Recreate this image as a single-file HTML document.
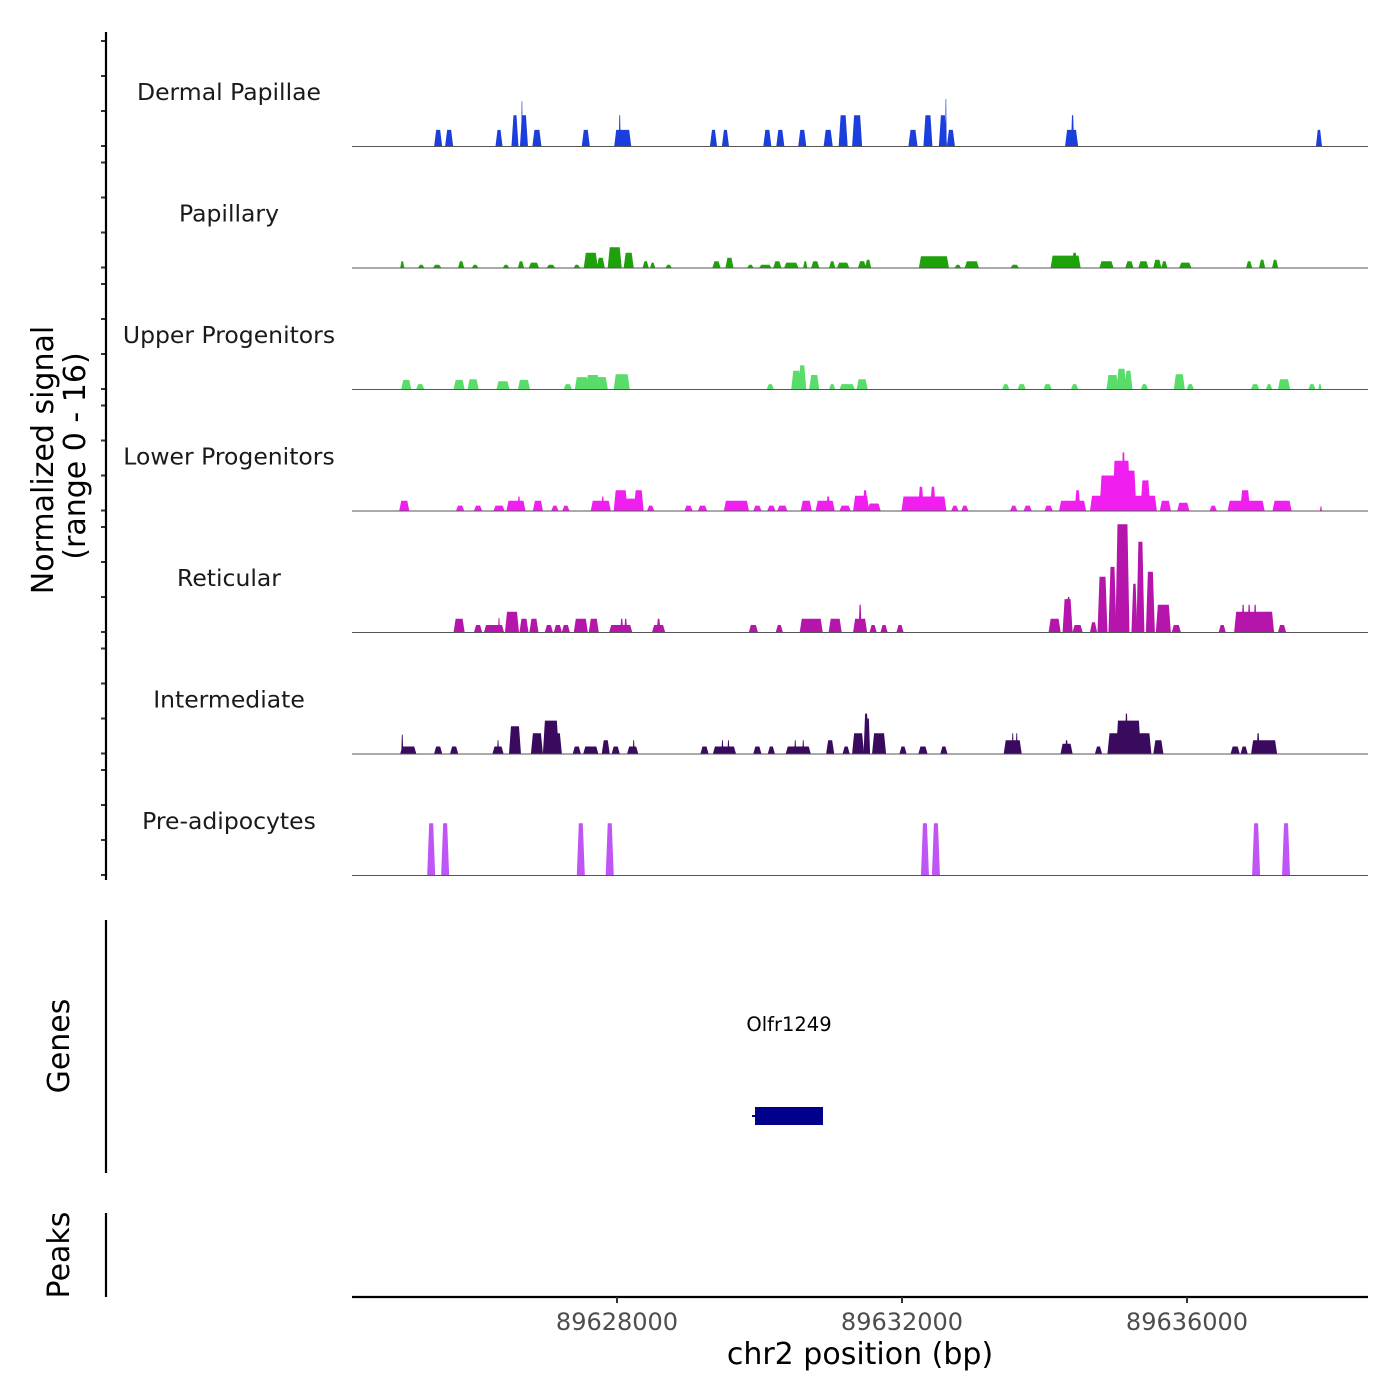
<!DOCTYPE html>
<html><head><meta charset="utf-8">
<style>
html,body{margin:0;padding:0;background:#fff;}
svg{display:block;font-family:"DejaVu Sans","Liberation Sans",sans-serif;}
</style></head>
<body>
<svg id="chart" width="1400" height="1400" viewBox="0 0 1400 1400" xmlns="http://www.w3.org/2000/svg">
<g id="tracks"></g>
<g id="axes"></g>
</svg>
<script>
// ---- data ----
const trackNames = ["Dermal Papillae","Papillary","Upper Progenitors","Lower Progenitors","Reticular","Intermediate","Pre-adipocytes"];
const trackColors = ["#1a3fdc","#1ea10a","#5adc6a","#f01ff0","#b515aa","#3a0a5e","#c055f5"];
const yTickValues = [0,5,10,15];
const xTickValues = [89628000,89632000,89636000];
const xTickLabels = ["89628000","89632000","89636000"];
// peaks: [center bp, width bp, signal]
const dermalPapillae = [[89625490,112,2.3],[89625644,112,2.3],[89626344,98,2.3],[89626568,98,4.4],[89626694,112,4.4],[89626666,21,6.4],[89626876,126,2.3],[89627562,112,2.3],[89628080,238,2.3],[89628038,28,4.4],[89629354,98,2.3],[89629522,98,2.3],[89630110,112,2.3],[89630292,112,2.3],[89630600,112,2.3],[89630964,126,2.3],[89631174,126,4.4],[89631370,140,4.4],[89632154,126,2.3],[89632364,126,4.4],[89632574,112,4.4],[89632616,21,6.7],[89632686,112,2.3],[89634380,182,2.3],[89634394,42,4.4],[89637852,84,2.3]];
const papillary = [[89624986,56,0.9],[89625252,84,0.4],[89625476,112,0.4],[89625812,84,0.9],[89626008,84,0.4],[89626442,84,0.4],[89626652,84,0.9],[89626834,140,0.7],[89627072,112,0.4],[89627436,84,0.4],[89627632,196,2.1],[89627772,112,1.4],[89627968,196,2.9],[89628164,140,2.1],[89628402,84,0.9],[89628500,70,0.7],[89628724,84,0.4],[89629396,112,0.9],[89629578,112,1.4],[89629872,84,0.4],[89630082,168,0.4],[89630250,112,0.9],[89630446,196,0.7],[89630642,56,0.9],[89630782,112,0.9],[89631020,84,0.9],[89631174,168,0.7],[89631440,112,0.9],[89631524,84,1.1],[89632448,420,1.6],[89632784,84,0.4],[89632980,196,0.9],[89633582,112,0.4],[89634296,420,1.7],[89634422,84,2.1],[89634870,196,0.9],[89635192,112,0.9],[89635388,140,0.9],[89635584,112,1.1],[89635682,84,0.9],[89635976,168,0.7],[89636872,84,0.9],[89637054,84,1.1],[89637236,84,1.1]];
const upperProgenitors = [[89625042,140,1.3],[89625238,112,0.7],[89625784,154,1.3],[89625980,154,1.4],[89626400,182,1.1],[89626694,168,1.3],[89627310,112,0.7],[89627506,196,1.7],[89627660,196,2.0],[89627772,196,1.7],[89628066,224,2.1],[89630152,98,0.7],[89630516,140,2.6],[89630600,112,3.4],[89630768,140,2.0],[89631020,84,0.7],[89631230,210,0.7],[89631440,154,1.4],[89633456,98,0.7],[89633680,112,0.7],[89634044,112,0.7],[89634422,98,0.7],[89634954,168,2.0],[89635080,140,2.9],[89635178,112,2.6],[89635402,98,0.7],[89635892,154,2.1],[89636046,98,0.7],[89636956,112,0.7],[89637152,84,0.7],[89637362,168,1.4],[89637754,98,0.7],[89637866,42,0.7]];
const lowerProgenitors = [[89625014,140,1.4],[89625798,112,0.7],[89626050,112,0.7],[89626344,154,0.7],[89626582,266,1.4],[89626624,42,2.0],[89626890,140,1.4],[89627128,98,0.7],[89627282,98,0.7],[89627772,280,1.4],[89627800,42,2.0],[89628052,196,2.9],[89628192,168,1.7],[89628304,140,2.9],[89628472,98,0.7],[89629004,112,0.7],[89629200,126,0.7],[89629676,350,1.4],[89629970,112,0.7],[89630166,112,0.7],[89630320,140,0.7],[89630656,154,1.4],[89630922,266,1.4],[89630964,56,2.0],[89631202,154,0.7],[89631426,224,2.1],[89631482,70,2.9],[89631608,182,1.0],[89632308,630,2.0],[89632266,84,3.4],[89632434,84,3.4],[89632742,98,0.7],[89632882,98,0.7],[89633568,98,0.7],[89633764,112,0.7],[89634058,112,0.7],[89634394,378,1.4],[89634464,84,2.9],[89635108,938,2.1],[89634912,280,5.0],[89635080,252,7.1],[89635108,56,8.3],[89635220,140,5.7],[89635416,140,4.3],[89635696,154,1.4],[89635948,168,1.1],[89636368,98,0.7],[89636830,518,1.4],[89636816,140,2.9],[89637334,266,1.4],[89637880,28,0.6]];
const reticular = [[89625784,154,1.9],[89626050,112,1.0],[89626274,280,1.0],[89626344,28,2.0],[89626526,196,2.9],[89626694,126,1.9],[89626834,126,1.9],[89627044,112,1.0],[89627170,112,1.0],[89627282,112,1.0],[89627492,196,1.9],[89627674,140,1.9],[89628052,322,1.0],[89628066,42,1.9],[89628122,42,1.9],[89628584,182,1.0],[89628584,56,1.9],[89629914,126,1.0],[89630278,98,1.0],[89630726,322,1.9],[89631062,182,1.9],[89631412,196,1.9],[89631412,42,3.9],[89631594,98,1.0],[89631748,98,1.0],[89631972,98,1.0],[89634142,168,1.9],[89634324,140,4.7],[89634338,56,5.0],[89634464,140,1.0],[89634688,98,1.4],[89634814,140,7.9],[89634954,112,9.3],[89635094,196,15.4],[89635262,84,6.9],[89635346,112,12.9],[89635486,126,8.6],[89635668,210,3.9],[89635850,126,1.0],[89636494,98,1.0],[89636942,560,2.9],[89636788,42,3.9],[89636872,42,3.9],[89636956,42,3.9],[89637124,42,2.9],[89637334,112,1.0]];
const intermediate = [[89625070,224,1.0],[89624986,28,2.7],[89625490,112,1.0],[89625714,112,1.0],[89626330,154,1.0],[89626330,28,1.9],[89626568,168,3.9],[89626876,168,2.9],[89627072,224,4.7],[89627170,112,2.9],[89627436,112,1.0],[89627632,210,1.0],[89627842,112,1.9],[89627982,112,1.0],[89628220,154,1.0],[89628234,28,1.9],[89629228,112,1.0],[89629508,322,1.0],[89629480,28,1.9],[89629564,28,1.9],[89629970,112,1.0],[89630166,98,1.0],[89630544,350,1.0],[89630502,28,1.9],[89630614,28,1.9],[89630992,112,1.9],[89631216,98,1.0],[89631384,168,2.9],[89631496,70,5.7],[89631524,56,5.0],[89631678,196,2.9],[89632014,98,1.0],[89632294,126,1.0],[89632588,98,1.0],[89633554,252,1.9],[89633554,28,2.9],[89633610,28,2.9],[89634310,168,1.4],[89634310,42,1.9],[89634758,98,1.0],[89635192,616,2.9],[89635178,350,4.7],[89635150,42,5.7],[89635598,140,1.9],[89636676,126,1.0],[89636802,98,1.0],[89637082,364,1.9],[89636998,42,2.9]];
const preAdipocytes = [[89625392,112,7.4],[89625588,112,7.4],[89627492,112,7.4],[89627898,112,7.4],[89632322,112,7.4],[89632476,112,7.4],[89636970,112,7.4],[89637390,112,7.4]];
const trackData = [dermalPapillae,papillary,upperProgenitors,lowerProgenitors,reticular,intermediate,preAdipocytes];
const geneName = "Olfr1249";
const geneStart = 89629937;
const geneEnd = 89630891;

// ---- scales ----
const NS = "http://www.w3.org/2000/svg";
const plotLeft = 352, plotRight = 1368;
const xRefBp = 89628000, xRefPx = 617, pxPerBp = 0.07125;
function xScale(bp){ return xRefPx + (bp - xRefBp) * pxPerBp; }
const trackBase0 = 146, trackStep = 121.5, pxPerUnit = 7;
function yScale(track, v){ return trackBase0 + track * trackStep - v * pxPerUnit; }
function mk(tag, attrs, parent){ const e = document.createElementNS(NS, tag); for (const k in attrs) e.setAttribute(k, attrs[k]); parent.appendChild(e); return e; }

const tracksG = document.getElementById('tracks');
const axesG = document.getElementById('axes');

trackData.forEach((peaks, t) => {
  const g = mk('g', {}, tracksG);
  
  
  const base = yScale(t, 0);
  peaks.forEach(p => {
    const c = p[0], w = p[1], v = p[2];
    const s = Math.min(w * 0.3, 28);
    const x0 = xScale(c - w/2), x1 = xScale(c - w/2 + s), x2 = xScale(c + w/2 - s), x3 = xScale(c + w/2);
    const yt = yScale(t, v);
    const poly = mk('polygon', {points: `${x0},${base} ${x1},${yt} ${x2},${yt} ${x3},${base}`, fill: trackColors[t]}, g);
    
    
  });
  const bl = mk('line', {x1: plotLeft, x2: plotRight, y1: base + 0.5, y2: base + 0.5, stroke: '#555', 'stroke-width': 1}, g);
  
  
  const lab = mk('text', {x: 229, y: base - 46, 'text-anchor': 'middle', 'font-size': 23.5, fill: '#1a1a1a'}, g);
  lab.textContent = trackNames[t];
  
  
  yTickValues.forEach(tv => {
    const tk = mk('line', {x1: 101, x2: 106, y1: yScale(t, tv), y2: yScale(t, tv), stroke: '#333', 'stroke-width': 2}, axesG);
    
    
  });
});

// left axes
mk('line', {x1:106,x2:106,y1:32,y2:880,stroke:'#000','stroke-width':2.2,}, axesG);
mk('line', {x1:106,x2:106,y1:920,y2:1173,stroke:'#000','stroke-width':2.2,}, axesG);
mk('line', {x1:106,x2:106,y1:1213,y2:1297,stroke:'#000','stroke-width':2.2,}, axesG);

// gene
const gx0 = xScale(geneStart), gx1 = xScale(geneEnd);
const gr = mk('rect', {x: gx0, y: 1107, width: gx1 - gx0, height: 18, fill: '#00008b'}, tracksG);


const gl = mk('line', {x1: gx0 - 3, x2: gx0, y1: 1116, y2: 1116, stroke: '#00008b', 'stroke-width': 2}, tracksG);


const gt = mk('text', {x: (gx0 + gx1)/2, y: 1031, 'text-anchor': 'middle', 'font-size': 19.5, fill: '#000'}, tracksG);
gt.textContent = geneName;



// x axis
mk('line', {x1: plotLeft, x2: plotRight, y1: 1297, y2: 1297, stroke: '#000', 'stroke-width': 2.2, }, axesG);
xTickValues.forEach((v, i) => {
  const x = xScale(v);
  const tk = mk('line', {x1: x, x2: x, y1: 1297, y2: 1303, stroke: '#333', 'stroke-width': 2}, axesG);
  
  
  const tl = mk('text', {x: x, y: 1330, 'text-anchor': 'middle', 'font-size': 24, fill: '#4d4d4d'}, axesG);
  tl.textContent = xTickLabels[i];
  
  
});
</script>
<svg style="position:absolute;left:0;top:0" width="1400" height="1400" font-family="DejaVu Sans, Liberation Sans, sans-serif">
<text x="860" y="1364" text-anchor="middle" font-size="30" fill="#000">chr2 position (bp)</text>
<text transform="translate(53,460) rotate(-90)" text-anchor="middle" font-size="30" fill="#000">Normalized signal</text>
<text transform="translate(85,456) rotate(-90)" text-anchor="middle" font-size="30" fill="#000">(range 0 - 16)</text>
<text transform="translate(69,1046) rotate(-90)" text-anchor="middle" font-size="30" fill="#000">Genes</text>
<text transform="translate(69,1255) rotate(-90)" text-anchor="middle" font-size="30" fill="#000">Peaks</text>
</svg>
</body></html>
